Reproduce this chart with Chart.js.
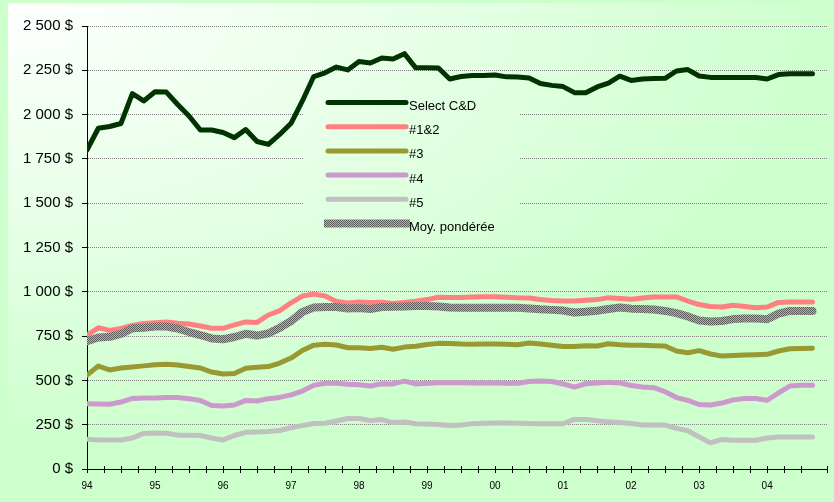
<!DOCTYPE html>
<html lang="fr">
<head>
    <meta charset="UTF-8">
    <title>Select C&amp;D</title>
    <script src="https://cdn.jsdelivr.net/npm/chart.js"></script>
    <style>
      body { margin: 0; }
      #wrap { width: 834px; height: 502px; }
    </style>
</head>
<body>
      <div id="wrap">
        <canvas id="myChart"></canvas>
      </div>

      <script>
        // dates (every two months) and values
        const months = [
          '1994-01','1994-03','1994-05','1994-07','1994-09','1994-11',
          '1995-01','1995-03','1995-05','1995-07','1995-09','1995-11',
          '1996-01','1996-03','1996-05','1996-07','1996-09','1996-11',
          '1997-01','1997-03','1997-05','1997-07','1997-09','1997-11',
          '1998-01','1998-03','1998-05','1998-07','1998-09','1998-11',
          '1999-01','1999-03','1999-05','1999-07','1999-09','1999-11',
          '2000-01','2000-03','2000-05','2000-07','2000-09','2000-11',
          '2001-01','2001-03','2001-05','2001-07','2001-09','2001-11',
          '2002-01','2002-03','2002-05','2002-07','2002-09','2002-11',
          '2003-01','2003-03','2003-05','2003-07','2003-09','2003-11',
          '2004-01','2004-03','2004-05','2004-07','2004-09'
        ]

        const selectCD = [
          1800, 1923, 1933, 1950, 2118, 2077,
          2129, 2127, 2057, 1992, 1913, 1913,
          1899, 1870, 1916, 1848, 1832, 1888,
          1951, 2077, 2215, 2236, 2268, 2252,
          2300, 2291, 2319, 2314, 2344, 2264,
          2264, 2263, 2201, 2215, 2220, 2220,
          2223, 2213, 2212, 2206, 2175, 2165,
          2158, 2124, 2123, 2156, 2178, 2217,
          2193, 2201, 2204, 2205, 2246, 2254,
          2218, 2210, 2210, 2210, 2210, 2209,
          2201, 2226, 2231, 2231, 2231
        ]
        const serie12 = [
          756, 797, 782, 793, 810, 821,
          826, 830, 822, 818, 807, 794,
          794, 813, 830, 827, 869, 894,
          938, 976, 987, 976, 945, 937,
          942, 940, 941, 934, 940, 947,
          956, 969, 968, 968, 971, 972,
          972, 969, 966, 965, 956, 951,
          948, 948, 952, 956, 967, 962,
          958, 965, 971, 971, 971, 948,
          928, 917, 914, 924, 917, 910,
          914, 940, 942, 942, 942
        ]
        const serie3 = [
          530, 581, 559, 570, 576, 582,
          588, 591, 587, 578, 570, 547,
          536, 539, 569, 574, 578, 598,
          626, 669, 699, 704, 700, 684,
          684, 680, 687, 676, 688, 693,
          703, 709, 708, 705, 704, 705,
          706, 704, 701, 711, 705, 698,
          691, 691, 695, 694, 707, 701,
          699, 698, 696, 694, 666, 656,
          668, 649, 638, 640, 643, 645,
          647, 666, 679, 680, 681
        ]
        const serie4 = [
          368, 367, 365, 378, 398, 401,
          401, 404, 404, 397, 387, 358,
          355, 361, 387, 384, 397, 404,
          418, 440, 472, 484, 484, 478,
          475, 468, 481, 480, 496, 480,
          484, 487, 487, 487, 486, 485,
          485, 484, 484, 494, 496, 494,
          480, 462, 481, 485, 490, 486,
          471, 463, 459, 436, 403, 387,
          364, 361, 372, 390, 398, 398,
          388, 429, 468, 472, 472
        ]
        const serie5 = [
          168, 164, 163, 164, 175, 201,
          203, 202, 191, 190, 189, 175,
          164, 189, 207, 209, 212, 217,
          233, 245, 257, 258, 271, 285,
          285, 273, 279, 262, 265, 255,
          254, 251, 245, 248, 256, 258,
          260, 259, 258, 257, 256, 256,
          256, 280, 280, 272, 266, 263,
          257, 248, 248, 248, 229, 216,
          181, 147, 167, 162, 162, 162,
          175, 181, 181, 181, 181
        ]
        const moyenne = [
          722, 742, 746, 762, 794, 797,
          804, 804, 793, 773, 756, 737,
          732, 745, 763, 753, 765, 796,
          835, 886, 911, 914, 914, 906,
          908, 903, 914, 916, 917, 920,
          920, 917, 911, 910, 910, 910,
          910, 910, 910, 906, 901, 898,
          894, 883, 888, 893, 903, 911,
          905, 903, 900, 892, 880, 861,
          838, 832, 835, 846, 849, 849,
          845, 877, 892, 892, 892
        ]

        const seriesNames = ['Select C&D', '#1&2', '#3', '#4', '#5', 'Moy. pondérée']
        const yearLabels = ['94','95','96','97','98','99','00','01','02','03','04']

        const ctx = document.getElementById('myChart');

        function toYear(m) {
          const p = m.split('-')
          return Number(p[0]) + (Number(p[1]) - 1) / 12
        }
        function pts(values) {
          return values.map((v, i) => ({ x: toYear(months[i]), y: v }))
        }

        // checkered grey for the weighted average
        const pc = document.createElement('canvas')
        pc.width = 2; pc.height = 2
        const pctx = pc.getContext('2d')
        pctx.fillStyle = '#b4b4b4'; pctx.fillRect(0, 0, 2, 2)
        pctx.fillStyle = '#5a5a5a'; pctx.fillRect(0, 0, 1, 1); pctx.fillRect(1, 1, 1, 1)
        const checker = pctx.createPattern(pc, 'repeat')

        function fillBg(c, x, y, w, h) {
          c.save()
          c.beginPath(); c.rect(x, y, w, h); c.clip()
          c.translate(8, 3)
          c.scale(850, 450)
          const g = c.createRadialGradient(0, 0, 0, 0, 0, 1)
          g.addColorStop(0, '#ffffff')
          g.addColorStop(1, '#ccffcc')
          c.fillStyle = g
          c.fillRect(-1, -1, 3, 3)
          c.restore()
        }

        const background = {
          id: 'background',
          beforeDraw(chart) {
            const c = chart.ctx
            c.save()
            c.fillStyle = '#ccffcc'
            c.fillRect(0, 0, chart.width, chart.height)
            c.restore()
            fillBg(c, 8, 3, chart.width - 8, chart.height - 3)
          }
        }

        const boxLegend = {
          id: 'boxLegend',
          beforeDatasetsDraw(chart) {
            const c = chart.ctx
            fillBg(c, 303, 84, 217, 156)
            c.save()
            c.font = '13px "Liberation Sans", Arial, sans-serif'
            c.textBaseline = 'alphabetic'
            c.textAlign = 'left'
            chart.data.datasets.forEach((ds, i) => {
              const y = 102.5 + i * 24.2
              if (ds.borderWidth > 6) {
                c.fillStyle = ds.borderColor
                c.fillRect(324, y - 4, 86, 8)
              } else {
                c.strokeStyle = ds.borderColor
                c.lineWidth = ds.borderWidth
                c.lineCap = 'round'
                c.beginPath(); c.moveTo(328, y); c.lineTo(406, y); c.stroke()
              }
              c.fillStyle = '#000'
              c.fillText(ds.label, 409, y + 7.5)
            })
            c.restore()
          }
        }

        // small tick part above the x axis
        const crossTicks = {
          id: 'crossTicks',
          afterDraw(chart) {
            const c = chart.ctx, sx = chart.scales.x, b = chart.chartArea.bottom
            c.save()
            c.strokeStyle = '#000'
            c.lineWidth = 1
            sx.ticks.forEach(t => {
              const px = Math.round(sx.getPixelForValue(t.value)) + 0.5
              c.beginPath(); c.moveTo(px, b - 3); c.lineTo(px, b); c.stroke()
            })
            c.restore()
          }
        }

        const colors = ['#003300', '#ff8080', '#999933', '#cc99cc', '#c0c0c0', checker]
        const widths = [5, 5, 5, 5, 5, 8]
        const values = [selectCD, serie12, serie3, serie4, serie5, moyenne]

        let grafico = new Chart(ctx, {
          type: 'line',
          data: {
            datasets: values.map((v, i) => ({
              label: seriesNames[i],
              data: pts(v),
              borderColor: colors[i],
              borderWidth: widths[i],
              borderJoinStyle: 'round',
              borderCapStyle: 'round',
              pointRadius: 0,
              tension: 0,
              fill: false,
              order: 6 - i
            }))
          },
          options: {
            responsive: true,
            maintainAspectRatio: false,
            animation: false,
            layout: { padding: { left: 0, top: 26, right: 0, bottom: 0 } },
            plugins: {
              legend: { display: false },
              tooltip: { enabled: false }
            },
            scales: {
              x: {
                type: 'linear',
                min: 1994,
                max: 2004.88,
                afterFit: s => { s.height = 33 },
                grid: { drawOnChartArea: false, tickLength: 4, tickColor: '#000' },
                border: { color: '#000', width: 1 },
                ticks: {
                  stepSize: 0.25,
                  autoSkip: false,
                  maxRotation: 0,
                  padding: 7,
                  color: '#000',
                  font: { family: '"Liberation Sans", Arial, sans-serif', size: 10 },
                  callback: v => {
                    const r = Math.round(v)
                    if (Math.abs(v - r) > 1e-6) return ''
                    return yearLabels[r - 1994] || ''
                  }
                }
              },
              y: {
                min: 0,
                max: 2500,
                afterFit: s => { s.width = 87 },
                grid: { color: '#808080', tickLength: 5, tickColor: '#000', tickBorderDash: [] },
                border: { color: '#000', width: 1, dash: [1, 1] },
                ticks: {
                  stepSize: 250,
                  padding: 9,
                  color: '#000',
                  font: { family: '"Liberation Sans", Arial, sans-serif', size: 15 },
                  callback: v => String(v).replace(/\B(?=(\d{3})+(?!\d))/g, ' ') + ' $'
                }
              }
            }
          },
          plugins: [background, boxLegend, crossTicks]
        });
      </script>
</body>
</html>
